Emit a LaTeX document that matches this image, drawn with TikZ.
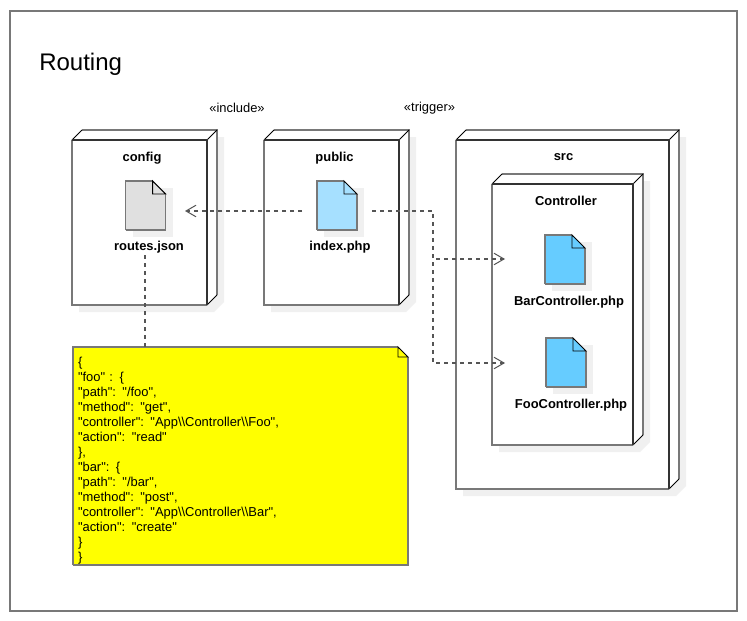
\documentclass[tikz,border=0pt]{standalone}
\usepackage{fontspec}
\newfontfamily\diagfont{Liberation Sans}
\usetikzlibrary{arrows.meta}
\definecolor{shade}{HTML}{F0F0F0}
\definecolor{edgegray}{HTML}{787878}
\definecolor{edgedark}{HTML}{333333}
\definecolor{depgray}{HTML}{555555}
\definecolor{filegray}{HTML}{E0E0E0}
\definecolor{fileblue}{HTML}{A6E0FF}
\definecolor{filedeep}{HTML}{66CCFF}
\definecolor{notefill}{HTML}{FFFF00}
\tikzset{
  x=0.75pt,y=-0.75pt,
  softedge/.style={draw=edgegray,line width=1.15pt},
  hardedge/.style={draw=edgedark,line width=1pt},
  thinedge/.style={draw=black,line width=0.7pt},
  shadowfill/.style={fill=shade,draw=none},
  labeltext/.style={font=\diagfont\bfseries\fontsize{9.7}{11}\selectfont,inner sep=0pt},
  plaintext/.style={font=\diagfont\fontsize{9.7}{11}\selectfont,inner sep=0pt},
  anchorbox/.style={rectangle,draw=none,inner sep=0pt,outer sep=0pt},
  dep/.style={draw=depgray,line width=0.95pt,dash pattern=on 3pt off 3pt},
  arrowend/.style={-{Straight Barb[length=7.5pt,width=6.5pt,line width=0.75pt,angle'=60]}},
}
% name, x1, y1, x2, y2, label, label x, label y
\newcommand{\deploybox}[8]{%
  \fill[shadowfill] (#2+7,#3+0) -- (#2+17,#3-3) -- (#4+17,#3-3) -- (#4+17,#5-3) -- (#4+7,#5+7) -- (#2+7,#5+7) -- cycle;
  \fill[white] (#2,#3) -- (#2+10,#3-10) -- (#4+10,#3-10) -- (#4+10,#5-10) -- (#4,#5) -- (#2,#5) -- cycle;
  \draw[softedge] (#2+10,#3-10) -- (#4+10,#3-10) -- (#4+10,#5-10);
  \draw[softedge] (#2,#3) -- (#2,#5) -- (#4,#5);
  \draw[thinedge] (#2,#3) -- (#2+10,#3-10);
  \draw[thinedge] (#4,#3) -- (#4+10,#3-10);
  \draw[thinedge] (#4,#5) -- (#4+10,#5-10);
  \draw[hardedge] (#2,#3) -- (#4,#3) -- (#4,#5);
  \node[labeltext] (#1label) at (#7,#8) {#6};
}
% name, file center x, top y, colour, group left, group right, group center y, label x, label y
\newcommand{\filebox}[9]{%
  \fill[shadowfill] (#2-13,#3+7) rectangle (#2+27,#3+56);
  \fill[#4] (#2-20,#3) -- (#2+7,#3) -- (#2+20,#3+13) -- (#2+20,#3+49) -- (#2-20,#3+49) -- cycle;
  \draw[softedge] (#2-20,#3+49) -- (#2-20,#3) -- (#2+7,#3);
  \draw[softedge] (#2+20,#3+13) -- (#2+20,#3+49) -- (#2-20,#3+49);
  \draw[thinedge] (#2+7,#3) -- (#2+20,#3+13) -- (#2+7,#3+13) -- cycle;
  \node[anchorbox,minimum width={(#6-#5)*0.75pt},minimum height={88*0.75pt}] (#1) at ({(#5+#6)/2},#7) {};
  \node[labeltext] (#1label) at (#8,#9) {\filelabel};
}
\begin{document}
\begin{tikzpicture}
\useasboundingbox[fill=white] (0,0) rectangle (747,621);
\node[anchorbox,draw=edgegray,line width=1.2pt,minimum width={727*0.75pt},minimum height={600*0.75pt}] (frame) at (373.5,311) {};
\node[anchor=west,inner sep=0pt,font=\diagfont\fontsize{18}{22}\selectfont] (title) at (39,64) {Routing};
\node[plaintext] (include) at (237,108) {«include»};
\node[plaintext] (trigger) at (429.5,108) {«trigger»};

\deploybox{config}{72}{140}{207}{305}{config}{142}{158}
\deploybox{public}{264}{140}{399}{305}{public}{334.5}{158}
\deploybox{src}{456}{140}{669}{489}{src}{563.5}{157}
\deploybox{controller}{492}{184}{633}{445}{Controller}{566}{201}

\def\filelabel{routes.json}
\filebox{routes}{145.6}{181}{filegray}{105}{185}{211}{149}{247}
\def\filelabel{index.php}
\filebox{index}{337}{181}{fileblue}{302}{372}{211}{340}{247}
\def\filelabel{BarController.php}
\filebox{bar}{565}{235}{filedeep}{505}{625}{259}{569}{302}
\def\filelabel{FooController.php}
\filebox{foo}{566}{338}{filedeep}{505}{627}{363}{571}{405}

\fill[notefill] (73,347) -- (398,347) -- (408,357) -- (408,565) -- (73,565) -- cycle;
\draw[softedge] (73,565) -- (73,347) -- (398,347);
\draw[softedge] (408,357) -- (408,565) -- (73,565);
\draw[thinedge] (398,347) -- (408,357) -- (398,357) -- cycle;
\node[anchorbox,minimum width={335*0.75pt},minimum height={218*0.75pt}] (note) at (240.5,456) {};
\node[anchorbox,text width={325*0.75pt},align=left,font=\diagfont\fontsize{9.7}{11.27}\selectfont] (notetext) at (240.5,460.5) {%
\{\\
"foo" : \{\\
"path": "/foo",\\
"method": "get",\\
"controller": "App\symbol{92}\symbol{92}Controller\symbol{92}\symbol{92}Foo",\\
"action": "read"\\
\},\\
"bar": \{\\
"path": "/bar",\\
"method": "post",\\
"controller": "App\symbol{92}\symbol{92}Controller\symbol{92}\symbol{92}Bar",\\
"action": "create"\\
\}\\
\}};

\coordinate (junction) at (433,211);
\draw[dep,arrowend] (index.west) -- (routes.east);
\draw[dep,arrowend] (index.east) -- (junction) |- (bar.west);
\draw[dep,arrowend] (index.east) -- (junction) |- (foo.west);
\draw[dep] (routes.south) -- (routes.south |- note.north);
\end{tikzpicture}
\end{document}
